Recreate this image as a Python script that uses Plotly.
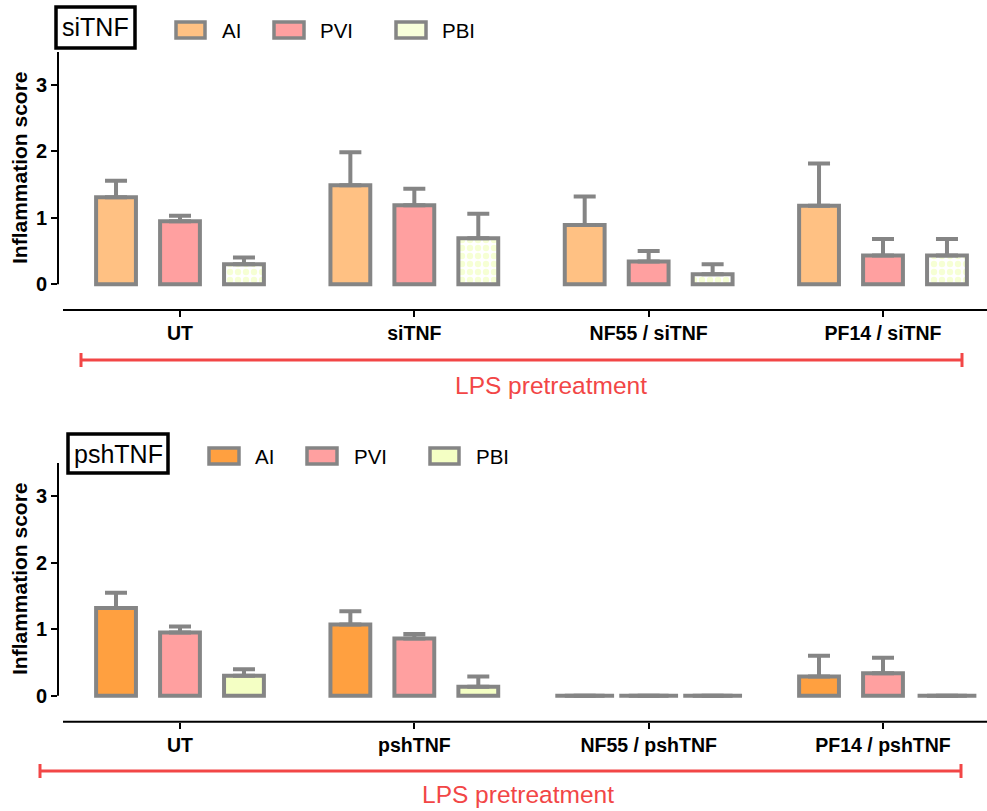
import plotly.graph_objects as go

# ---------------- data ----------------
series = ["AI", "PVI", "PBI"]

top_categories = ["UT", "siTNF", "NF55 / siTNF", "PF14 / siTNF"]
top_AI = [1.31, 1.49, 0.89, 1.18]
top_AI_err = [0.25, 0.50, 0.43, 0.64]
top_PVI = [0.95, 1.19, 0.34, 0.43]
top_PVI_err = [0.08, 0.25, 0.16, 0.25]
top_PBI = [0.30, 0.69, 0.15, 0.43]
top_PBI_err = [0.10, 0.37, 0.15, 0.25]

bot_categories = ["UT", "pshTNF", "NF55 / pshTNF", "PF14 / pshTNF"]
bot_AI = [1.32, 1.07, 0.0, 0.29]
bot_AI_err = [0.23, 0.20, 0.0, 0.31]
bot_PVI = [0.95, 0.86, 0.0, 0.34]
bot_PVI_err = [0.09, 0.07, 0.0, 0.23]
bot_PBI = [0.30, 0.135, 0.0, 0.0]
bot_PBI_err = [0.10, 0.155, 0.0, 0.0]

y_ticks = [0, 1, 2, 3]
panel_labels = ["siTNF", "pshTNF"]
bracket_label = "LPS pretreatment"
y_title = "Inflammation score"

# ---------------- style ----------------
W, H = 987, 811
ML = 58
PW = W - ML
GRAY = "#858585"
RED = "#F24646"
FONT = "Liberation Sans, Arial, sans-serif"
colors_top = {"AI": "#FFC183", "PVI": "#FFA0A0", "PBI": "#F4FFC4"}
colors_bot = {"AI": "#FFA040", "PVI": "#FFA0A0", "PBI": "#F4FFC4"}
offsets = [-0.273, 0.0, 0.273]
bar_w = 0.170


def px(x):
    # page pixel -> paper x (paper spans the plot area)
    return (x - ML) / PW


def py(y):
    return 1 - y / H


fig = go.Figure()

panels = [
    dict(cats=top_categories, vals=[top_AI, top_PVI, top_PBI],
         errs=[top_AI_err, top_PVI_err, top_PBI_err], colors=colors_top,
         xa="x", ya="y", pattern=True),
    dict(cats=bot_categories, vals=[bot_AI, bot_PVI, bot_PBI],
         errs=[bot_AI_err, bot_PVI_err, bot_PBI_err], colors=colors_bot,
         xa="x2", ya="y2", pattern=False),
]

for p in panels:
    zx, zy = [], []
    for k, name in enumerate(series):
        xs = [i + offsets[k] for i in range(len(p["cats"]))]
        marker = dict(color=p["colors"][name], line=dict(color=GRAY, width=4))
        if name == "PBI" and p["pattern"]:
            marker["pattern"] = dict(shape=".", fgcolor="#EEFFAA", bgcolor="white",
                                     size=8, solidity=0.5)
        fig.add_trace(go.Bar(
            x=xs, y=p["vals"][k], width=bar_w, name=name, marker=marker,
            xaxis=p["xa"], yaxis=p["ya"], showlegend=False,
            error_y=dict(type="data", array=p["errs"][k],
                         arrayminus=[0] * len(p["errs"][k]), symmetric=False,
                         color=GRAY, thickness=4, width=11),
        ))
        for xv, v in zip(xs, p["vals"][k]):
            if v == 0:
                zx.append(xv)
                zy.append(v)
    if zx:
        fig.add_trace(go.Scatter(
            x=zx, y=zy, mode="markers", xaxis=p["xa"], yaxis=p["ya"],
            showlegend=False, hoverinfo="skip",
            marker=dict(symbol="line-ew", size=42,
                        line=dict(color=GRAY, width=4)),
        ))

xr = [-0.5206, 3.4438]
yr = [-0.39, 3.5]
dom_top = [py(310), py(52)]
dom_bot = [py(721.7), py(463)]

axis_common_x = dict(range=xr, tickvals=[0, 1, 2, 3], ticks="outside", ticklen=6,
                     tickwidth=2, tickcolor="black", showline=False,
                     showgrid=False, zeroline=False, automargin=False,
                     tickfont=dict(family=FONT, size=19.5, color="black", weight="bold"))
axis_common_y = dict(range=yr, tickvals=y_ticks, ticks="outside", ticklen=6,
                     tickwidth=2, tickcolor="black", showline=False,
                     showgrid=False, zeroline=False, automargin=False,
                     tickfont=dict(family=FONT, size=20, color="black", weight="bold"))

fig.update_layout(
    width=W, height=H,
    margin=dict(l=ML, r=0, t=0, b=0, autoexpand=False),
    paper_bgcolor="white", plot_bgcolor="rgba(0,0,0,0)",
    barmode="overlay",
    xaxis=dict(domain=[0, 1], anchor="y", ticktext=top_categories, **axis_common_x),
    yaxis=dict(domain=dom_top, anchor="x", **axis_common_y),
    xaxis2=dict(domain=[0, 1], anchor="y2", ticktext=bot_categories, **axis_common_x),
    yaxis2=dict(domain=dom_bot, anchor="x2", **axis_common_y),
)

shapes = []
annotations = []

# axis lines (GraphPad style, detached)
for (ya, xaxis_line_y) in [("y", 310), ("y2", 721.7)]:
    shapes.append(dict(type="line", xref="paper", yref=ya, x0=px(58), x1=px(58),
                       y0=0, y1=3.5, line=dict(color="black", width=2)))
    shapes.append(dict(type="line", xref="paper", yref="paper", x0=px(63), x1=1,
                       y0=py(xaxis_line_y), y1=py(xaxis_line_y),
                       line=dict(color="black", width=2)))

# y titles
for yc in [168, 579]:
    annotations.append(dict(text=y_title, xref="paper", yref="paper", x=px(19), y=py(yc),
                            xanchor="center", yanchor="middle", textangle=-90,
                            showarrow=False,
                            font=dict(family=FONT, size=21, color="black", weight="bold")))

# LPS brackets
for (x0, x1, yl, tx, ty) in [(81, 962, 360, 551, 385), (40, 961, 771, 518, 794)]:
    shapes.append(dict(type="line", xref="paper", yref="paper", x0=px(x0), x1=px(x1),
                       y0=py(yl), y1=py(yl), line=dict(color=RED, width=3)))
    for xe in (x0, x1):
        shapes.append(dict(type="line", xref="paper", yref="paper", x0=px(xe), x1=px(xe),
                           y0=py(yl - 7), y1=py(yl + 7), line=dict(color=RED, width=3)))
    annotations.append(dict(text=bracket_label, xref="paper", yref="paper", x=px(tx), y=py(ty),
                            xanchor="center", yanchor="middle", showarrow=False,
                            font=dict(family=FONT, size=24.5, color=RED)))

# panel boxes and legends
legend_specs = [
    dict(box=(56, 7, 135, 48), label=panel_labels[0], colors=colors_top,
         sw=[(176, 205), (274, 304), (396, 426)], sy=(22, 38), tx=[220, 318, 440], ty=30,
         pbi_fill="#F8FFDA"),
    dict(box=(68, 434, 168, 473), label=panel_labels[1], colors=colors_bot,
         sw=[(209, 239), (307, 337), (430, 459)], sy=(448, 464), tx=[253, 352, 474], ty=456,
         pbi_fill=colors_bot["PBI"]),
]
for L in legend_specs:
    bx0, by0, bx1, by1 = L["box"]
    shapes.append(dict(type="rect", xref="paper", yref="paper", x0=px(bx0), x1=px(bx1),
                       y0=py(by1), y1=py(by0), line=dict(color="black", width=3.5),
                       fillcolor="white"))
    annotations.append(dict(text=L["label"], xref="paper", yref="paper",
                            x=px((bx0 + bx1) / 2), y=py((by0 + by1) / 2),
                            xanchor="center", yanchor="middle", showarrow=False,
                            font=dict(family=FONT, size=25, color="black")))
    for k, name in enumerate(series):
        sx0, sx1 = L["sw"][k]
        fill = L["pbi_fill"] if name == "PBI" else L["colors"][name]
        shapes.append(dict(type="rect", xref="paper", yref="paper", x0=px(sx0), x1=px(sx1),
                           y0=py(L["sy"][1]), y1=py(L["sy"][0]),
                           line=dict(color=GRAY, width=3.5), fillcolor=fill))
        annotations.append(dict(text=name, xref="paper", yref="paper", x=px(L["tx"][k]),
                                y=py(L["ty"]), xanchor="left", yanchor="middle",
                                showarrow=False,
                                font=dict(family=FONT, size=20.5, color="black")))

fig.update_layout(shapes=shapes, annotations=annotations)

fig.write_html("out.html", config={"displayModeBar": False},
               post_script="document.body.style.margin='0';document.body.style.padding='0';")
